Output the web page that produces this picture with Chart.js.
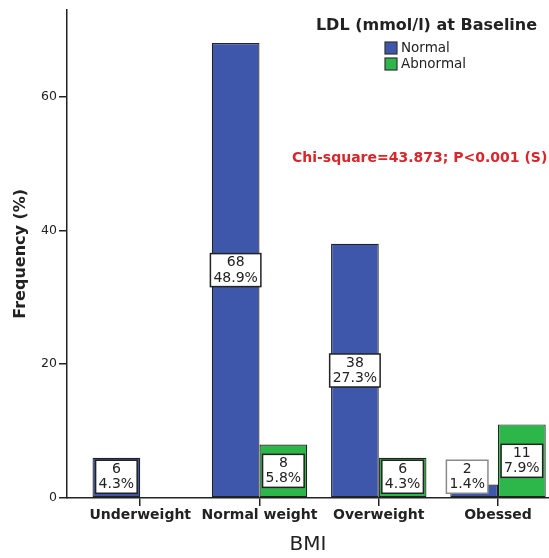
<!DOCTYPE html>
<html>
<head>
<meta charset="utf-8">
<script src="https://cdn.jsdelivr.net/npm/chart.js@4"></script>
<style>
  html, body { margin: 0; padding: 0; background: #ffffff; }
  #wrap { width: 549px; height: 558px; position: relative; }
</style>
</head>
<body>
<div id="wrap"><canvas id="c"></canvas></div>
<script>
const categories = ['Underweight', 'Normal weight', 'Overweight', 'Obessed'];
const normalCounts = [6, 68, 38, 2];
const abnormalCounts = [0, 8, 6, 11];
const normalPct = ['4.3%', '48.9%', '27.3%', '1.4%'];
const abnormalPct = ['', '5.8%', '4.3%', '7.9%'];
const yTicks = [0, 20, 40, 60];
const legendTitle = 'LDL (mmol/l) at Baseline';
const seriesNames = ['Normal', 'Abnormal'];
const statText = 'Chi-square=43.873; P<0.001 (S)';

const FONT = '"DejaVu Sans", Verdana, sans-serif';
const DARK = '#222222';
const BLUE = '#3E57AA';
const GREEN = '#2DB649';

const pctLists = [normalPct, abnormalPct];

const labelPlugin = {
  id: 'barLabels',
  afterDatasetsDraw(chart) {
    const ctx = chart.ctx;
    ctx.save();
    ctx.font = '14px ' + FONT;
    chart.data.datasets.forEach((ds, di) => {
      const meta = chart.getDatasetMeta(di);
      meta.data.forEach((el, i) => {
        const v = ds.data[i].y;
        if (!v) return;
        const lines = [String(v), pctLists[di][i]];
        const w = Math.max(...lines.map(t => ctx.measureText(t).width)) + 6;
        const h = 33;
        const base = el.base;
        let cy = (el.y + base) / 2;
        if (cy + h / 2 > base - 4) cy = base - 4 - h / 2;
        const top = cy - h / 2;
        const outside = top < el.y;
        // boxes that stick out of a very short bar are nudged left, as in the reference
        const cx = outside ? el.x - 7 : el.x;
        ctx.fillStyle = '#ffffff';
        ctx.fillRect(cx - w / 2, top, w, h);
        ctx.lineWidth = 1.5;
        ctx.strokeStyle = outside ? '#8a8a8a' : DARK;
        ctx.strokeRect(cx - w / 2, top, w, h);
        ctx.fillStyle = DARK;
        ctx.textAlign = 'center';
        ctx.textBaseline = 'middle';
        ctx.fillText(lines[0], cx, cy - 7.5);
        ctx.fillText(lines[1], cx, cy + 8);
      });
    });
    ctx.restore();
  }
};

const legendPlugin = {
  id: 'customLegend',
  afterDraw(chart) {
    const ctx = chart.ctx;
    ctx.save();
    ctx.fillStyle = DARK;
    ctx.font = 'bold 16px ' + FONT;
    ctx.textAlign = 'center';
    ctx.textBaseline = 'middle';
    ctx.fillText(legendTitle, 426.5, 26);
    ctx.font = '13.5px ' + FONT;
    ctx.textAlign = 'left';
    chart.data.datasets.forEach((ds, i) => {
      const y = 42 + i * 16;
      ctx.fillStyle = ds.backgroundColor;
      ctx.fillRect(385, y, 12, 12);
      ctx.lineWidth = 1.2;
      ctx.strokeStyle = '#333333';
      ctx.strokeRect(385, y, 12, 12);
      ctx.fillStyle = DARK;
      ctx.fillText(seriesNames[i], 401, y + 6.5);
    });
    ctx.font = 'bold 14px ' + FONT;
    ctx.fillStyle = '#D8262B';
    ctx.fillText(statText, 292, 158);
    ctx.restore();
  }
};

new Chart(document.getElementById('c'), {
  type: 'bar',
  data: {
    datasets: [
      { label: seriesNames[0], data: normalCounts.map((v, i) => ({ x: i, y: v })), backgroundColor: BLUE, borderColor: DARK, borderWidth: 1.2 },
      { label: seriesNames[1], data: abnormalCounts.map((v, i) => ({ x: i, y: v })), backgroundColor: GREEN, borderColor: DARK, borderWidth: 1.2 }
    ]
  },
  options: {
    responsive: true,
    maintainAspectRatio: false,
    animation: false,
    layout: { padding: { top: 6, right: 0, left: 0, bottom: 0 } },
    datasets: { bar: { categoryPercentage: 0.8, barPercentage: 1.0, borderSkipped: false } },
    plugins: { legend: { display: false }, tooltip: { enabled: false } },
    scales: {
      x: {
        type: 'linear',
        offset: false,
        min: -0.614,
        max: 3.4275,
        afterBuildTicks(scale) { scale.ticks = categories.map((c, i) => ({ value: i })); },
        afterFit(scale) { scale.height = 60; },
        ticks: {
          callback: (v) => categories[v],
          font: { family: FONT, size: 14, weight: 'bold' },
          color: DARK,
          padding: 1,
          maxRotation: 0,
          autoSkip: false
        },
        grid: { offset: false, drawOnChartArea: false, drawTicks: true, tickLength: 8, color: DARK, lineWidth: 1.5 },
        border: { display: true, color: DARK, width: 1.5 },
        title: { display: true, text: 'BMI', font: { family: FONT, size: 20 }, color: DARK, padding: { top: 0, bottom: 1 } }
      },
      y: {
        min: 0,
        max: 73,
        afterBuildTicks(scale) { scale.ticks = yTicks.map(v => ({ value: v })); },
        afterFit(scale) { scale.width = 67; },
        ticks: { font: { family: FONT, size: 12.5 }, color: DARK, padding: 2 },
        grid: { drawOnChartArea: false, drawTicks: true, tickLength: 8, color: DARK, lineWidth: 1.5 },
        border: { display: true, color: DARK, width: 1.5 },
        title: { display: true, text: 'Frequency (%)', font: { family: FONT, size: 16, weight: 'bold' }, color: DARK, padding: { top: 11, bottom: 0 } }
      }
    }
  },
  plugins: [labelPlugin, legendPlugin]
});
</script>
</body>
</html>
